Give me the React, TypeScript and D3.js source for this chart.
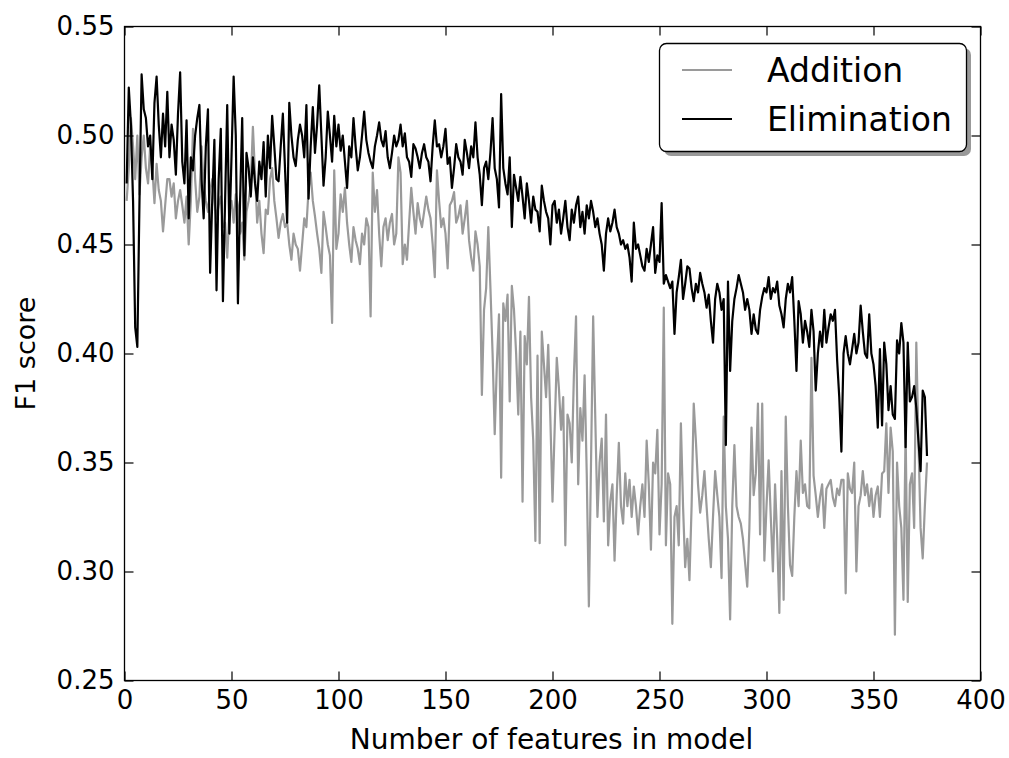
import * as d3 from 'd3';
import React, { useRef, useEffect } from 'react';

// F1 score vs number of features, two selection strategies
const xTicks = [0, 50, 100, 150, 200, 250, 300, 350, 400];
const yTicks = [0.25, 0.3, 0.35, 0.4, 0.45, 0.5, 0.55];
const seriesNames = ['Addition', 'Elimination'];

// features in model: 1..375
const elimination = [
  0.478, 0.522, 0.505, 0.470, 0.412, 0.403, 0.470, 0.528, 0.512, 0.508,
  0.495, 0.500, 0.480, 0.515, 0.527, 0.505, 0.490, 0.510, 0.495, 0.520,
  0.490, 0.505, 0.498, 0.482, 0.510, 0.529, 0.488, 0.478, 0.507, 0.462,
  0.490, 0.484, 0.500, 0.508, 0.514, 0.480, 0.462, 0.495, 0.512, 0.437,
  0.470, 0.498, 0.429, 0.480, 0.503, 0.424, 0.470, 0.514, 0.455, 0.490,
  0.527, 0.500, 0.423, 0.470, 0.508, 0.445, 0.492, 0.485, 0.472, 0.490,
  0.478, 0.470, 0.488, 0.480, 0.497, 0.472, 0.500, 0.485, 0.509, 0.495,
  0.480, 0.479, 0.495, 0.510, 0.485, 0.460, 0.515, 0.500, 0.490, 0.486,
  0.498, 0.505, 0.500, 0.490, 0.514, 0.471, 0.495, 0.513, 0.492, 0.505,
  0.523, 0.500, 0.477, 0.490, 0.511, 0.500, 0.488, 0.509, 0.495, 0.505,
  0.493, 0.500, 0.488, 0.476, 0.495, 0.490, 0.508, 0.495, 0.484, 0.490,
  0.500, 0.511, 0.498, 0.492, 0.488, 0.485, 0.495, 0.500, 0.506, 0.498,
  0.495, 0.502, 0.490, 0.485, 0.492, 0.500, 0.495, 0.498, 0.505, 0.495,
  0.501, 0.490, 0.488, 0.481, 0.496, 0.494, 0.490, 0.485, 0.492, 0.496,
  0.490, 0.488, 0.479, 0.495, 0.507, 0.495, 0.496, 0.490, 0.495, 0.503,
  0.487, 0.490, 0.476, 0.485, 0.496, 0.490, 0.488, 0.482, 0.498, 0.492,
  0.485, 0.495, 0.490, 0.506, 0.490, 0.482, 0.468, 0.485, 0.488, 0.480,
  0.492, 0.508, 0.485, 0.480, 0.467, 0.519, 0.485, 0.478, 0.473, 0.490,
  0.458, 0.482, 0.476, 0.470, 0.481, 0.472, 0.462, 0.478, 0.470, 0.460,
  0.472, 0.466, 0.465, 0.456, 0.477, 0.470, 0.465, 0.462, 0.450, 0.468,
  0.470, 0.460, 0.466, 0.455, 0.462, 0.470, 0.458, 0.452, 0.466, 0.460,
  0.468, 0.472, 0.458, 0.465, 0.455, 0.468, 0.462, 0.470, 0.465, 0.458,
  0.462, 0.455, 0.450, 0.438, 0.455, 0.462, 0.456, 0.460, 0.466, 0.458,
  0.455, 0.450, 0.452, 0.448, 0.450, 0.444, 0.433, 0.460, 0.448, 0.450,
  0.445, 0.440, 0.438, 0.448, 0.442, 0.450, 0.458, 0.437, 0.445, 0.442,
  0.469, 0.432, 0.436, 0.433, 0.430, 0.433, 0.409, 0.428, 0.435, 0.443,
  0.425, 0.432, 0.440, 0.439, 0.430, 0.424, 0.432, 0.428, 0.437, 0.432,
  0.428, 0.421, 0.427, 0.415, 0.405, 0.425, 0.432, 0.428, 0.420, 0.425,
  0.358, 0.433, 0.392, 0.415, 0.425, 0.430, 0.436, 0.432, 0.428, 0.420,
  0.425, 0.420, 0.409, 0.418, 0.411, 0.409, 0.420, 0.426, 0.430, 0.428,
  0.435, 0.425, 0.430, 0.428, 0.433, 0.422, 0.418, 0.412, 0.425, 0.432,
  0.428, 0.435, 0.415, 0.392, 0.424, 0.418, 0.405, 0.415, 0.410, 0.403,
  0.420, 0.410, 0.383, 0.400, 0.410, 0.403, 0.420, 0.405, 0.412, 0.418,
  0.415, 0.420, 0.397, 0.380, 0.355, 0.400, 0.408, 0.400, 0.395, 0.402,
  0.409, 0.400, 0.405, 0.422, 0.410, 0.400, 0.398, 0.418, 0.400, 0.395,
  0.385, 0.366, 0.402, 0.367, 0.405, 0.395, 0.374, 0.385, 0.372, 0.370,
  0.406, 0.400, 0.414, 0.405, 0.357, 0.405, 0.378, 0.380, 0.385, 0.375,
  0.360, 0.346, 0.383, 0.380, 0.353
];

const addition = [
  0.470, 0.485, 0.508, 0.495, 0.480, 0.500, 0.473, 0.490, 0.500, 0.485,
  0.478, 0.495, 0.485, 0.469, 0.487, 0.475, 0.470, 0.456, 0.468, 0.480,
  0.480, 0.472, 0.478, 0.462, 0.470, 0.475, 0.468, 0.460, 0.472, 0.450,
  0.470, 0.503, 0.480, 0.465, 0.472, 0.495, 0.478, 0.470, 0.465, 0.475,
  0.480, 0.470, 0.462, 0.468, 0.472, 0.458, 0.460, 0.444, 0.465, 0.470,
  0.460, 0.473, 0.468, 0.455, 0.460, 0.443, 0.465, 0.470, 0.478, 0.504,
  0.482, 0.460, 0.470, 0.455, 0.446, 0.466, 0.464, 0.480, 0.485, 0.470,
  0.462, 0.453, 0.460, 0.464, 0.458, 0.460, 0.450, 0.443, 0.455, 0.450,
  0.448, 0.438, 0.450, 0.462, 0.458, 0.475, 0.483, 0.470, 0.463, 0.455,
  0.448, 0.437, 0.465, 0.458, 0.450, 0.445, 0.414, 0.484, 0.448, 0.455,
  0.473, 0.465, 0.476, 0.460, 0.450, 0.442, 0.458, 0.452, 0.448, 0.441,
  0.455, 0.450, 0.462, 0.458, 0.417, 0.483, 0.465, 0.475, 0.455, 0.440,
  0.458, 0.462, 0.452, 0.460, 0.464, 0.450, 0.455, 0.490, 0.483, 0.441,
  0.450, 0.443, 0.460, 0.476, 0.465, 0.455, 0.469, 0.462, 0.458, 0.465,
  0.472, 0.466, 0.462, 0.450, 0.435, 0.484, 0.470, 0.458, 0.462, 0.455,
  0.439, 0.468, 0.470, 0.474, 0.460, 0.463, 0.468, 0.455, 0.462, 0.470,
  0.452, 0.444, 0.438, 0.456, 0.450, 0.440, 0.381, 0.420, 0.430, 0.458,
  0.430, 0.400, 0.363, 0.395, 0.418, 0.343, 0.423, 0.415, 0.427, 0.378,
  0.431, 0.420, 0.400, 0.372, 0.410, 0.332, 0.408, 0.395, 0.426, 0.380,
  0.360, 0.314, 0.399, 0.313, 0.410, 0.395, 0.380, 0.404, 0.370, 0.332,
  0.365, 0.398, 0.384, 0.365, 0.380, 0.312, 0.372, 0.368, 0.350, 0.390,
  0.417, 0.340, 0.375, 0.360, 0.390, 0.345, 0.284, 0.350, 0.417, 0.370,
  0.325, 0.350, 0.361, 0.323, 0.372, 0.312, 0.332, 0.340, 0.305, 0.335,
  0.359, 0.330, 0.322, 0.345, 0.330, 0.342, 0.325, 0.339, 0.330, 0.317,
  0.330, 0.340, 0.325, 0.360, 0.340, 0.310, 0.350, 0.345, 0.365, 0.317,
  0.340, 0.421, 0.312, 0.345, 0.340, 0.276, 0.325, 0.330, 0.312, 0.368,
  0.330, 0.302, 0.315, 0.296, 0.330, 0.377, 0.360, 0.340, 0.327, 0.335,
  0.346, 0.330, 0.315, 0.302, 0.325, 0.346, 0.335, 0.325, 0.297, 0.371,
  0.330, 0.315, 0.278, 0.330, 0.358, 0.330, 0.325, 0.322, 0.315, 0.304,
  0.293, 0.320, 0.366, 0.335, 0.345, 0.377, 0.317, 0.377, 0.305, 0.330,
  0.351, 0.325, 0.300, 0.340, 0.315, 0.281, 0.346, 0.287, 0.371, 0.330,
  0.303, 0.298, 0.325, 0.346, 0.330, 0.360, 0.336, 0.340, 0.330, 0.329,
  0.398, 0.344, 0.335, 0.325, 0.334, 0.340, 0.320, 0.338, 0.340, 0.342,
  0.334, 0.330, 0.338, 0.335, 0.342, 0.342, 0.290, 0.345, 0.338, 0.336,
  0.350, 0.300, 0.330, 0.335, 0.346, 0.335, 0.340, 0.330, 0.338, 0.325,
  0.335, 0.339, 0.325, 0.345, 0.346, 0.368, 0.336, 0.366, 0.355, 0.271,
  0.350, 0.330, 0.320, 0.287, 0.365, 0.286, 0.340, 0.345, 0.320, 0.405,
  0.360, 0.320, 0.306, 0.330, 0.350
];

const colors = ['#9a9a9a', '#000000'];
const font = 'DejaVu Sans, sans-serif';

function App() {
  const ref = useRef(null);
  const width = 1009, height = 758;

  useEffect(() => {
    const svg = d3.select(ref.current);
    svg.selectAll('*').remove();

    const left = 124.5, right = 980.5, top = 26.5, bottom = 680.5;
    const x = d3.scaleLinear().domain([0, 400]).range([left, right]);
    const y = d3.scaleLinear().domain([0.25, 0.55]).range([bottom, top]);

    svg.append('rect').attr('width', width).attr('height', height).attr('fill', '#fff');

    // lines
    const line = d3.line<number>()
      .x((d, i) => x(i + 1))
      .y(d => y(d));
    [addition, elimination].forEach((s, k) => {
      svg.append('path')
        .datum(s)
        .attr('d', line)
        .attr('fill', 'none')
        .attr('stroke', colors[k])
        .attr('stroke-width', 2.2)
        .attr('stroke-linejoin', 'round');
    });

    // axes (ticks point inward on all four sides)
    const xb = svg.append('g').attr('transform', `translate(0,${bottom})`)
      .call(d3.axisBottom(x).tickValues(xTicks).tickSizeInner(-9).tickSizeOuter(0).tickPadding(10).tickFormat(d3.format('d')));
    const yl = svg.append('g').attr('transform', `translate(${left},0)`)
      .call(d3.axisLeft(y).tickValues(yTicks).tickSizeInner(-9).tickSizeOuter(0).tickPadding(10).tickFormat(d3.format('.2f')));
    const xt = svg.append('g').attr('transform', `translate(0,${top})`)
      .call(d3.axisTop(x).tickValues(xTicks).tickSizeInner(-9).tickSizeOuter(0).tickFormat(() => ''));
    const yr = svg.append('g').attr('transform', `translate(${right},0)`)
      .call(d3.axisRight(y).tickValues(yTicks).tickSizeInner(-9).tickSizeOuter(0).tickFormat(() => ''));
    [xb, yl, xt, yr].forEach(g => {
      g.select('.domain').remove();
      g.selectAll('line').attr('stroke', '#000').attr('stroke-width', 1.2);
      g.selectAll('text').attr('font-family', font).attr('font-size', 26).attr('fill', '#000');
    });

    svg.append('rect')
      .attr('x', left).attr('y', top)
      .attr('width', right - left).attr('height', bottom - top)
      .attr('fill', 'none').attr('stroke', '#000').attr('stroke-width', 1.3);

    // axis titles
    svg.append('text')
      .attr('x', (left + right) / 2 - 1).attr('y', 749)
      .attr('text-anchor', 'middle')
      .attr('font-family', font).attr('font-size', 28)
      .text('Number of features in model');
    svg.append('text')
      .attr('transform', `translate(35,${(top + bottom) / 2}) rotate(-90)`)
      .attr('text-anchor', 'middle')
      .attr('font-family', font).attr('font-size', 27)
      .text('F1 score');

    // legend
    const lg = svg.append('g');
    lg.append('rect')
      .attr('x', 664).attr('y', 48).attr('width', 307).attr('height', 108)
      .attr('rx', 7).attr('fill', '#555').attr('opacity', 0.6);
    lg.append('rect')
      .attr('x', 659.5).attr('y', 43.5).attr('width', 307).attr('height', 108)
      .attr('rx', 7).attr('fill', '#fff').attr('stroke', '#000').attr('stroke-width', 1.3);
    seriesNames.forEach((name, i) => {
      const cy = 70 + i * 49;
      lg.append('line')
        .attr('x1', 682).attr('x2', 732).attr('y1', cy).attr('y2', cy)
        .attr('stroke', colors[i]).attr('stroke-width', 2.2);
      lg.append('text')
        .attr('x', 767).attr('y', cy + 12)
        .attr('font-family', font).attr('font-size', 33)
        .text(name);
    });
  }, []);

  return (
    <svg ref={ref} width={width} height={height}
      style={{ position: 'absolute', left: 0, top: 0, display: 'block' }} />
  );
}

export default App;
